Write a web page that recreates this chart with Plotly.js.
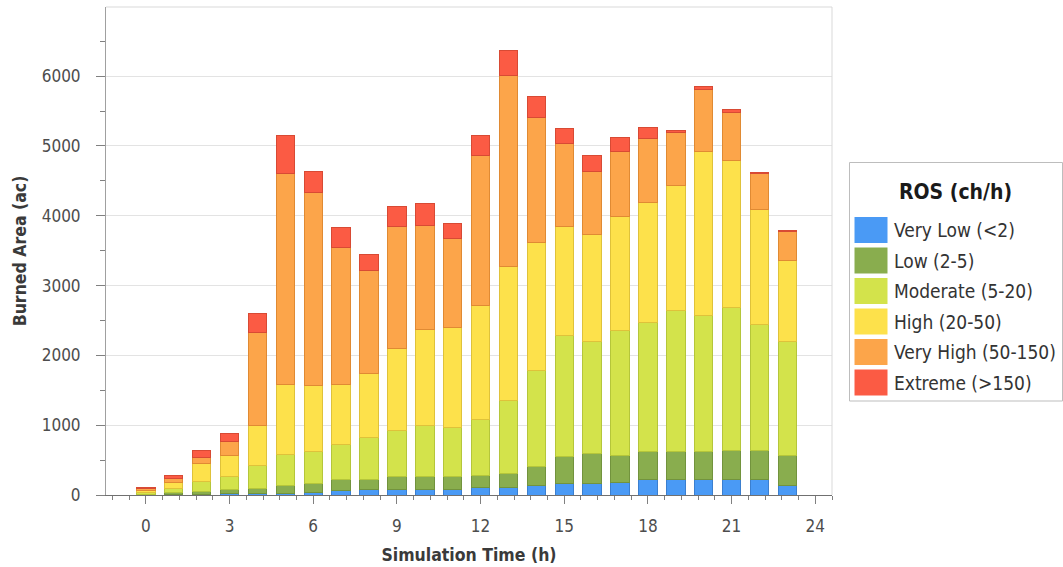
<!DOCTYPE html>
<html>
<head>
<meta charset="utf-8">
<script src="https://cdn.plot.ly/plotly-3.0.1.min.js"></script>
<style>html,body{margin:0;padding:0;background:#fff;}#chart{width:1063px;height:567px;}</style>
</head>
<body>
<div id="chart"></div>
<script>
// ---- data ----
const hours = [0,1,2,3,4,5,6,7,8,9,10,11,12,13,14,15,16,17,18,19,20,21,22,23];
const seriesNames = ["Very Low (<2)","Low (2-5)","Moderate (5-20)","High (20-50)","Very High (50-150)","Extreme (>150)"];
const veryLow  = [3,10,14,24,20,15,33,70,80,86,86,86,110,110,143,158,158,181,215,215,215,215,215,143];
const low      = [9,24,33,57,75,128,134,145,149,177,177,177,176,200,263,391,439,392,405,405,405,429,429,430];
const moderate = [23,62,143,181,325,437,463,515,596,658,730,706,802,1050,1384,1733,1608,1780,1852,2020,1957,2043,1805,1632];
const high     = [35,86,263,310,573,1010,936,860,911,1184,1379,1427,1623,1909,1823,1561,1528,1642,1719,1795,2339,2110,1647,1160];
const veryHigh = [18,57,91,192,1332,3017,2773,1961,1485,1738,1494,1280,2158,2741,1790,1193,897,921,921,753,898,683,505,411];
const extreme  = [17,38,95,113,277,543,301,287,224,286,311,209,281,353,301,210,229,211,158,34,38,38,15,19];
const xTickVals = [0,3,6,9,12,15,18,21,24];
const yTickVals = [0,1000,2000,3000,4000,5000,6000];
const legendTitle = "ROS (ch/h)";
const xTitle = "Simulation Time (h)";
const yTitle = "Burned Area (ac)";

const seriesValues = [veryLow, low, moderate, high, veryHigh, extreme];
const fillColors = ["#4a9af5","#89ad4e","#d3e34b","#fde14b","#fca54a","#fb5b44"];
const lineColors = ["#3b7fcf","#72933d","#b5c63a","#dfc23a","#e08a33","#d84a34"];

const FONT = '"DejaVu Sans Condensed", "DejaVu Sans", sans-serif';

const traces = seriesNames.map((name, i) => ({
  type: 'bar',
  name: name,
  x: hours,
  y: seriesValues[i],
  width: 0.66,
  marker: {color: fillColors[i], line: {color: lineColors[i], width: 1}},
  showlegend: false,
  hoverinfo: 'x+y+name'
}));

// geometry helpers (pixel -> paper)
const W = 1063, H = 567, ML = 106, MR = 231, MT = 7, MB = 72;
const PW = W - ML - MR, PH = H - MT - MB;
const px = v => (v - ML) / PW;
const py = v => (H - MB - v) / PH;

const shapes = [
  {type:'line', xref:'paper', yref:'paper', x0:0, x1:1, y0:1, y1:1, line:{color:'#d9d9d9', width:1}},
  {type:'line', xref:'paper', yref:'paper', x0:1, x1:1, y0:0, y1:1, line:{color:'#d9d9d9', width:1}},
  // legend box
  {type:'rect', xref:'paper', yref:'paper', x0:px(849.5), x1:px(1062.5), y0:py(401), y1:py(162.5),
   line:{color:'#bdbdbd', width:1}, fillcolor:'#ffffff', layer:'above'}
];
const annotations = [
  {xref:'paper', yref:'paper', x:px(955), y:py(192), xanchor:'center', yanchor:'middle', showarrow:false,
   text:'<b>'+legendTitle+'</b>', font:{family:FONT, size:21, color:'#1a1a1a'}}
];
seriesNames.forEach((name, i) => {
  const top = 216.5 + i*30.5, bot = top + 27;
  shapes.push({type:'rect', xref:'paper', yref:'paper', x0:px(854), x1:px(888), y0:py(bot), y1:py(top),
    line:{color:'#ffffff', width:1}, fillcolor:fillColors[i], layer:'above'});
  annotations.push({xref:'paper', yref:'paper', x:px(892), y:py((top+bot)/2), xanchor:'left', yanchor:'middle',
    showarrow:false, text:name, font:{family:FONT, size:19, color:'#333333'}});
});

const layout = {
  width: W, height: H,
  margin: {l: ML, r: MR, t: MT, b: MB, pad: 0},
  paper_bgcolor: '#ffffff', plot_bgcolor: '#ffffff',
  barmode: 'stack',
  showlegend: false,
  font: {family: FONT, size: 17, color: '#4d4d4d'},
  xaxis: {
    range: [-1.43, 24.6], tickmode: 'array', tickvals: xTickVals, ticktext: xTickVals.map(String),
    ticks: 'outside', ticklen: 8, tickcolor: '#808080', tickwidth: 1,
    minor: {dtick: 0.6, tick0: 0, ticks: 'outside', ticklen: 4, tickcolor: '#808080', showgrid: false},
    showgrid: false, zeroline: false, showline: true, linecolor: '#707070', linewidth: 1,
    ticklabelstandoff: 8,
    tickfont: {family: FONT, size: 17, color: '#4d4d4d'},
    title: {text: '<b>'+xTitle+'</b>', font: {family: FONT, size: 17.5, color: '#3a3a3a'}, standoff: 13}
  },
  yaxis: {
    range: [0, 6990], tickmode: 'array', tickvals: yTickVals, ticktext: yTickVals.map(String),
    ticks: 'outside', ticklen: 9, tickcolor: '#808080', tickwidth: 1,
    minor: {dtick: 500, tick0: 0, ticks: 'outside', ticklen: 5, tickcolor: '#808080', showgrid: false},
    showgrid: true, gridcolor: '#e3e3e3', gridwidth: 1, zeroline: false,
    showline: true, linecolor: '#a0a0a0', linewidth: 1,
    ticklabelstandoff: 12,
    tickfont: {family: FONT, size: 17, color: '#4d4d4d'},
    title: {text: '<b>'+yTitle+'</b>', font: {family: FONT, size: 17.5, color: '#3a3a3a'}, standoff: 10}
  },
  shapes: shapes,
  annotations: annotations,
  bargap: 0.3
};

Plotly.newPlot('chart', traces, layout, {displayModeBar: false, staticPlot: true});
</script>
</body>
</html>
